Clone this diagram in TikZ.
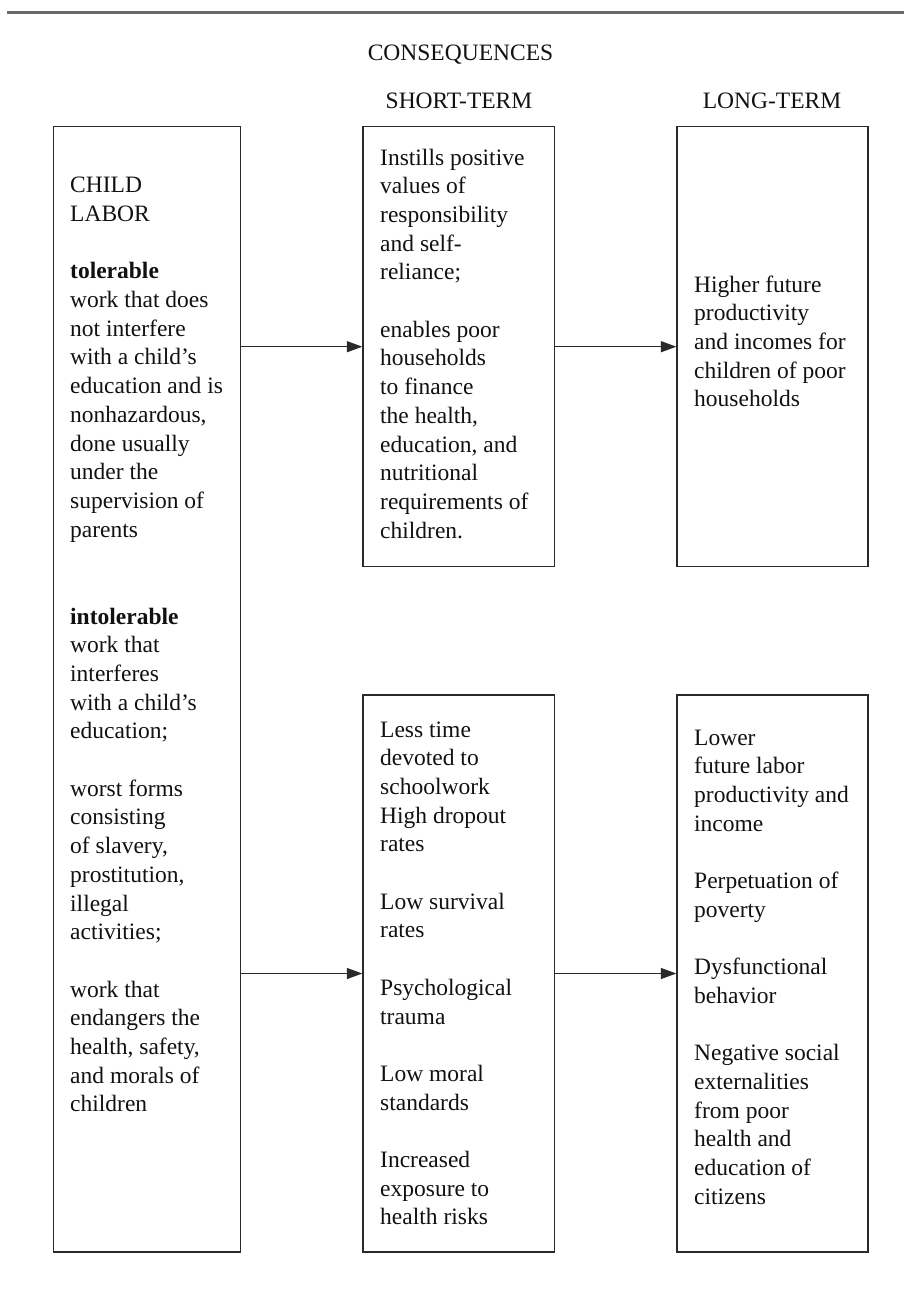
\documentclass[tikz,border=0pt]{standalone}
\usepackage{fontspec}
\setmainfont{Liberation Serif}
\usetikzlibrary{arrows.meta}
\definecolor{ln}{HTML}{2A2A2A}
\definecolor{tx}{HTML}{111111}
\definecolor{rulegray}{HTML}{6A6A6A}
\newcommand{\txtblock}[1]{\parbox[t]{230pt}{#1}}
\begin{document}
\begin{tikzpicture}[x=1pt,y=-1pt,
  every node/.style={font=\fontsize{23.5}{28.7}\selectfont, text=tx},
  framebox/.style={draw=ln, line width=1.3pt, rectangle, inner sep=0pt},
  txt/.style={anchor=base west, inner sep=0pt},
  hdr/.style={anchor=base, inner sep=0pt},
  arr/.style={draw=ln, line width=1.3pt, -{Triangle[length=15.5pt,width=11pt]}}]
\useasboundingbox (0,0) rectangle (904,1291);
% top rule
\draw[rulegray, line width=2.5pt] (7,12.3) -- (904,12.3);
% headers
\node[hdr] (hcons) at (460.5,60) {CONSEQUENCES};
\node[hdr] (hshort) at (459,108) {SHORT-TERM};
\node[hdr] (hlong) at (772,108) {LONG-TERM};
% boxes
\node[framebox, minimum width=187pt, minimum height=1125.3pt] (left) at (147,689.35) {};
\node[framebox, minimum width=191.5pt, minimum height=440pt] (mid1) at (458.75,346.7) {};
\node[framebox, minimum width=191pt, minimum height=440pt] (right1) at (772.5,346.7) {};
\node[framebox, minimum width=191.5pt, minimum height=557pt] (mid2) at (458.75,973.5) {};
\node[framebox, minimum width=191pt, minimum height=557pt] (right2) at (772.5,973.5) {};
% texts
\node[txt] (tleftA) at (70,192.7) {\txtblock{CHILD\\ LABOR\\[28.7pt]
\textbf{tolerable}\\ work that does\\ not interfere\\ with a child’s\\ education and is\\ nonhazardous,\\ done usually\\ under the\\ supervision of\\ parents}};
\node[txt] (tleftB) at (70,624) {\txtblock{\textbf{intolerable}\\ work that\\ interferes\\ with a child’s\\ education;\\[28.7pt]
worst forms\\ consisting\\ of slavery,\\ prostitution,\\ illegal\\ activities;\\[28.7pt]
work that\\ endangers the\\ health, safety,\\ and morals of\\ children}};
\node[txt] (tmid1) at (380,165) {\txtblock{Instills positive\\ values of\\ responsibility\\ and self-\\ reliance;\\[28.7pt]
enables poor\\ households\\ to finance\\ the health,\\ education, and\\ nutritional\\ requirements of\\ children.}};
\node[txt] (tright1) at (694,292) {\txtblock{Higher future\\ productivity\\ and incomes for\\ children of poor\\ households}};
\node[txt] (tmid2) at (380,737) {\txtblock{Less time\\ devoted to\\ schoolwork\\ High dropout\\ rates\\[28.7pt]
Low survival\\ rates\\[28.7pt]
Psychological\\ trauma\\[28.7pt]
Low moral\\ standards\\[28.7pt]
Increased\\ exposure to\\ health risks}};
\node[txt] (tright2) at (694,745) {\txtblock{Lower\\ future labor\\ productivity and\\ income\\[28.7pt]
Perpetuation of\\ poverty\\[28.7pt]
Dysfunctional\\ behavior\\[28.7pt]
Negative social\\ externalities\\ from poor\\ health and\\ education of\\ citizens}};
% arrows
\draw[arr] (left.east |- mid1.west) -- (mid1.west);
\draw[arr] (mid1.east) -- (right1.west);
\draw[arr] (left.east |- mid2.west) -- (mid2.west);
\draw[arr] (mid2.east) -- (right2.west);
\end{tikzpicture}
\end{document}
